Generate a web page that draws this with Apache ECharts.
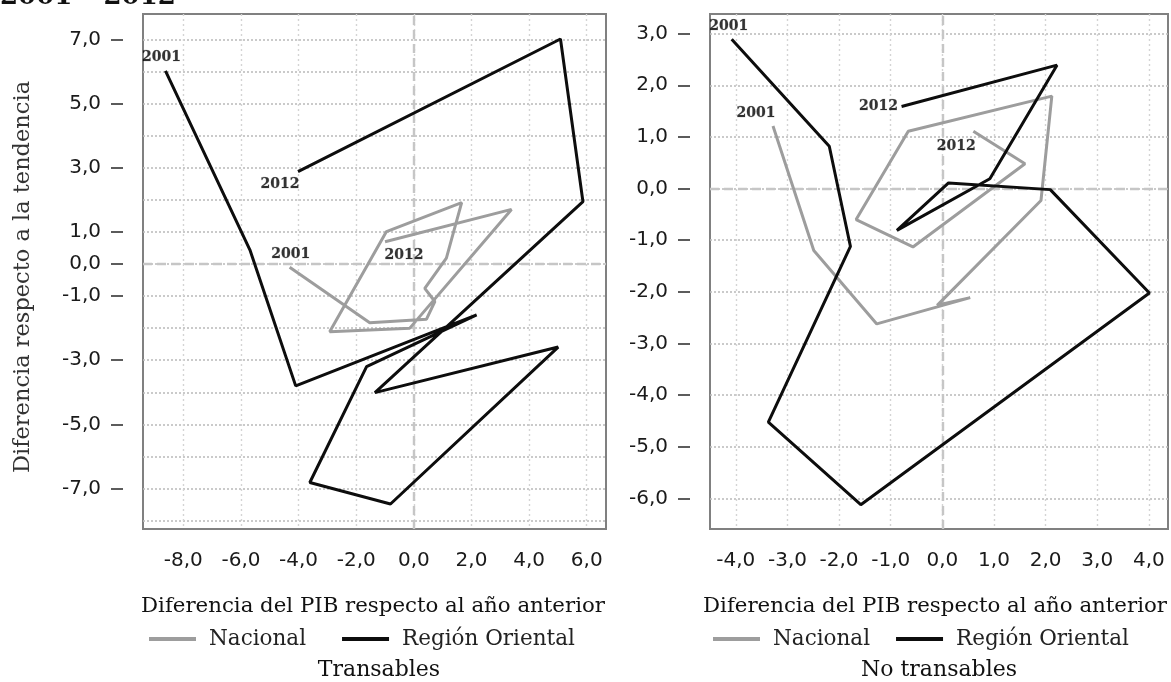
<!DOCTYPE html>
<html>
<head>
<meta charset="utf-8">
<script src="https://cdn.jsdelivr.net/npm/echarts@6/dist/echarts.min.js"></script>
<style>
html,body{margin:0;padding:0;background:#fff;}
#chart{width:1171px;height:682px;}
</style>
</head>
<body>
<div id="chart"></div>
<script>
// ---------- DATA ----------
const years = [2001, 2002, 2003, 2004, 2005, 2006, 2007, 2008, 2009, 2010, 2011, 2012];

// Transables (left panel)
const natT_x = [-4.31, -1.53, 0.44, 0.73, 0.38, 1.13, 1.66, -0.95, -2.92, -0.14, 3.39, -1.00];
const natT_y = [-0.10, -1.83, -1.72, -1.17, -0.76, 0.18, 1.91, 1.01, -2.11, -2.00, 1.70, 0.69];
const regT_x = [-8.62, -5.69, -4.10, 2.18, -1.64, -3.61, -0.81, 5.01, -1.35, 5.87, 5.09, -4.02];
const regT_y = [6.02, 0.44, -3.80, -1.59, -3.20, -6.81, -7.48, -2.59, -4.01, 1.94, 7.01, 2.88];

// No transables (right panel)
const natN_x = [-3.28, -2.49, -1.27, 0.54, -0.10, 1.91, 2.12, -0.66, -1.67, -0.57, 1.60, 0.60];
const natN_y = [1.21, -1.20, -2.62, -2.11, -2.26, -0.23, 1.79, 1.11, -0.60, -1.13, 0.48, 1.11];
const regN_x = [-4.08, -2.19, -1.78, -3.37, -1.58, 4.01, 2.09, 0.12, -0.88, 0.92, 2.22, -0.79];
const regN_y = [2.89, 0.82, -1.12, -4.52, -6.12, -2.02, -0.02, 0.11, -0.81, 0.19, 2.39, 1.59];

// Axis ticks / labels
const xTicksL = [-8, -6, -4, -2, 0, 2, 4, 6];
const yLabelsL = [7, 5, 3, 1, 0, -1, -3, -5, -7];
const yGridL = [-8, -7, -6, -5, -4, -3, -2, -1, 0, 1, 2, 3, 4, 5, 6, 7];
const xTicksR = [-4, -3, -2, -1, 0, 1, 2, 3, 4];
const yTicksR = [-6, -5, -4, -3, -2, -1, 0, 1, 2, 3];

const seriesNames = ['Nacional', 'Región Oriental'];
const panelTitles = ['Transables', 'No transables'];
const xTitle = 'Diferencia del PIB respecto al año anterior';
const yTitle = 'Diferencia respecto a la tendencia';
const mainTitle = '2001 – 2012';

// ---------- STYLE / LAYOUT ----------
const GRAY = '#9d9d9d', BLACK = '#0d0d0d';
const SANS = 'DejaVu Sans', SERIF = 'DejaVu Serif';
const fmt = v => v.toFixed(1).replace('.', ',');
const pts = (xs, ys) => xs.map((x, i) => [x, ys[i]]);

const hGrid = {show: true, lineStyle: {color: '#bdbdbd', type: [2, 2], width: 1.6}};
const vGrid = {show: true, lineStyle: {color: '#d4d4d4', type: [2, 3], width: 1.4}};

function lineSeries(name, color, xs, ys, gi, yi, withZero) {
  const s = {
    name: name, type: 'line', xAxisIndex: gi, yAxisIndex: yi,
    data: pts(xs, ys), showSymbol: false, symbol: 'none', z: 3,
    lineStyle: {color: color, width: 3}, itemStyle: {color: color},
    animation: false, silent: true
  };
  if (withZero) {
    s.markLine = {
      silent: true, z: 1, symbol: ['none', 'none'], label: {show: false},
      lineStyle: {color: '#c6c6c6', type: [9, 5], width: 2.4},
      data: [{xAxis: 0}, {yAxis: 0}], animation: false
    };
  }
  return s;
}

function yearSeries(xs, ys, gi, yi, offFirst, offLast) {
  const n = xs.length - 1;
  return {
    type: 'scatter', xAxisIndex: gi, yAxisIndex: yi, symbolSize: 0, z: 5,
    silent: true, animation: false,
    label: {show: true, position: 'inside', fontFamily: SERIF, fontWeight: 'bold',
            fontSize: 14, color: '#000', textBorderColor: 'rgba(0,0,0,0.35)', textBorderWidth: 0.6,
            formatter: p => String(p.data.year)},
    data: [
      {value: [xs[0], ys[0]], year: years[0], label: {offset: offFirst}},
      {value: [xs[n], ys[n]], year: years[n], label: {offset: offLast}}
    ]
  };
}

function xAxisCfg(gi, min, max, ticks) {
  return {
    type: 'value', gridIndex: gi, min: min, max: max, position: 'bottom',
    axisLine: {show: false, onZero: false},
    axisTick: {show: false, customValues: ticks},
    axisLabel: {customValues: ticks, formatter: fmt, margin: 22,
                fontFamily: SANS, fontSize: 20, color: '#1a1a1a'},
    splitLine: vGrid
  };
}

function yAxisCfg(gi, min, max, tickVals, labelVals, grid) {
  return {
    type: 'value', gridIndex: gi, min: min, max: max, offset: 20, position: 'left',
    axisLine: {show: false, onZero: false},
    axisTick: {show: true, length: 12, customValues: tickVals, lineStyle: {color: '#333', width: 1.6}},
    axisLabel: {customValues: labelVals, formatter: fmt, margin: 22,
                fontFamily: SANS, fontSize: 20, color: '#1a1a1a'},
    splitLine: grid ? hGrid : {show: false}
  };
}

const serifFont = sz => sz + 'px "DejaVu Serif"';

const option = {
  backgroundColor: '#ffffff',
  animation: false,
  grid: [
    {left: 143, top: 14, width: 463, height: 515, show: true, borderColor: '#808080', borderWidth: 2, backgroundColor: '#fff'},
    {left: 710, top: 14, width: 458, height: 515, show: true, borderColor: '#808080', borderWidth: 2, backgroundColor: '#fff'}
  ],
  xAxis: [
    xAxisCfg(0, -9.40, 6.67, xTicksL),
    xAxisCfg(1, -4.50, 4.37, xTicksR)
  ],
  yAxis: [
    yAxisCfg(0, -8.26, 7.79, yLabelsL, yLabelsL, false),
    {
      type: 'value', gridIndex: 0, min: -8.26, max: 7.79, position: 'left',
      axisLine: {show: false, onZero: false},
      axisTick: {show: false, customValues: yGridL},
      axisLabel: {show: false},
      splitLine: hGrid
    },
    yAxisCfg(1, -6.59, 3.38, yTicksR, yTicksR, true)
  ],
  legend: [
    {left: 149, top: 628, padding: 0, icon: 'rect', itemWidth: 47, itemHeight: 4, itemGap: 36,
     data: seriesNames, textStyle: {fontFamily: SERIF, fontSize: 21.5, color: '#222', padding: [0, 0, 0, 8]}},
    {left: 713, top: 628, padding: 0, icon: 'rect', itemWidth: 47, itemHeight: 4, itemGap: 26,
     data: seriesNames, textStyle: {fontFamily: SERIF, fontSize: 21.5, color: '#222', padding: [0, 0, 0, 8]}}
  ],
  graphic: [
    {type: 'text', left: 0, top: -16, silent: true,
     style: {text: mainTitle, font: 'bold 26px "DejaVu Serif"', fill: '#111'}},
    {type: 'text', x: 23, y: 277, rotation: Math.PI / 2, silent: true,
     style: {text: yTitle, font: serifFont(22.5), fill: '#333', align: 'center', verticalAlign: 'middle'}},
    {type: 'text', x: 373, y: 606, silent: true,
     style: {text: xTitle, font: serifFont(21.3), fill: '#111', align: 'center', verticalAlign: 'middle'}},
    {type: 'text', x: 935, y: 606, silent: true,
     style: {text: xTitle, font: serifFont(21.3), fill: '#111', align: 'center', verticalAlign: 'middle'}},
    {type: 'text', x: 379, y: 670, silent: true,
     style: {text: panelTitles[0], font: serifFont(22), fill: '#111', align: 'center', verticalAlign: 'middle'}},
    {type: 'text', x: 939, y: 670, silent: true,
     style: {text: panelTitles[1], font: serifFont(22), fill: '#111', align: 'center', verticalAlign: 'middle'}}
  ],
  series: [
    lineSeries(seriesNames[0], GRAY, natT_x, natT_y, 0, 0, true),
    lineSeries(seriesNames[1], BLACK, regT_x, regT_y, 0, 0, false),
    lineSeries(seriesNames[0], GRAY, natN_x, natN_y, 1, 2, true),
    lineSeries(seriesNames[1], BLACK, regN_x, regN_y, 1, 2, false),
    yearSeries(regT_x, regT_y, 0, 0, [-4, -13], [-18, 13]),
    yearSeries(natT_x, natT_y, 0, 0, [1, -13], [19, 14]),
    yearSeries(regN_x, regN_y, 1, 2, [-3, -13], [-23, 0]),
    yearSeries(natN_x, natN_y, 1, 2, [-17, -13], [-17, 15])
  ]
};

const chart = echarts.init(document.getElementById('chart'), null, {renderer: 'canvas'});
chart.setOption(option);
</script>
</body>
</html>
